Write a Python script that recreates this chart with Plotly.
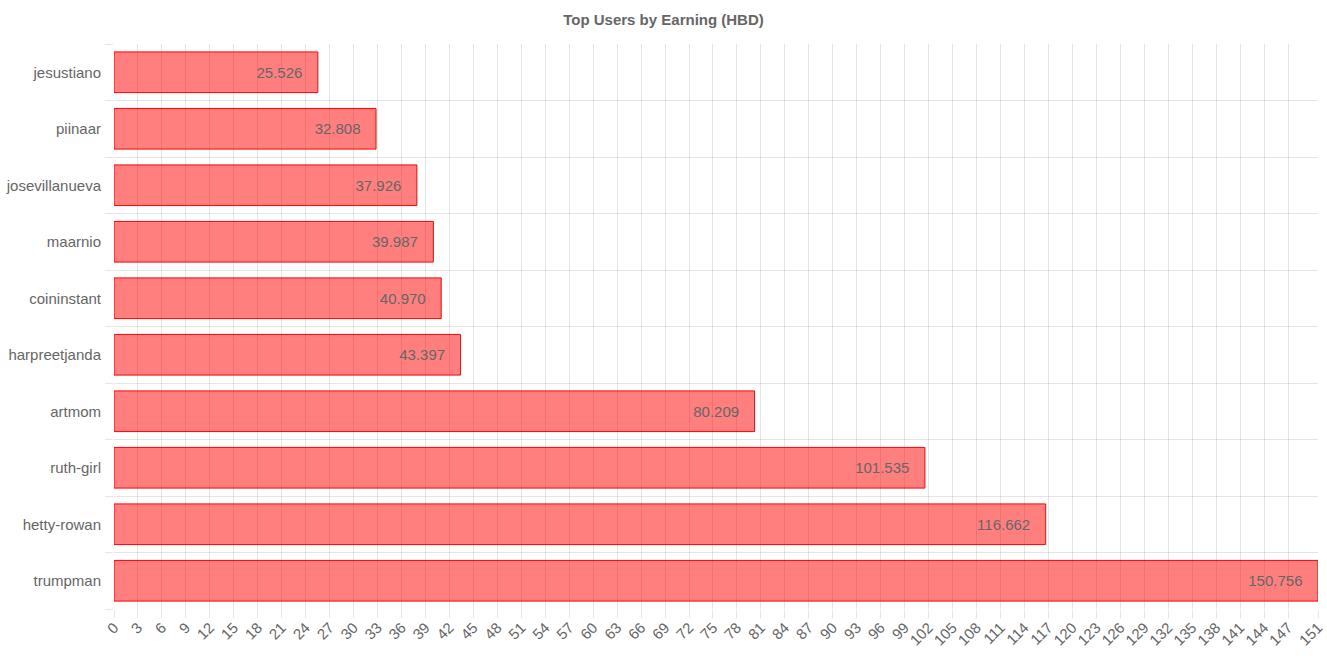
import plotly.graph_objects as go

users = ["jesustiano", "piinaar", "josevillanueva", "maarnio", "coininstant",
         "harpreetjanda", "artmom", "ruth-girl", "hetty-rowan", "trumpman"]
earnings = [25.526, 32.808, 37.926, 39.987, 40.970, 43.397, 80.209, 101.535, 116.662, 150.756]

x_max = max(earnings)
tick_vals = list(range(0, 148, 3)) + [x_max]
tick_text = [str(v) for v in range(0, 148, 3)] + [str(round(x_max))]

n = len(users)
positions = list(range(n))
boundaries = [i - 0.5 for i in range(n + 1)]

grid = "rgba(0,0,0,0.1)"
font = "Liberation Sans, Arial, sans-serif"

fig = go.Figure(go.Bar(
    x=earnings,
    y=positions,
    orientation="h",
    width=0.72,
    marker=dict(color="rgba(255,0,0,0.5)", line=dict(color="rgb(255,0,0)", width=1)),
    text=[f"{v:.3f}\u00a0\u00a0\u00a0" for v in earnings],
    textposition="inside",
    insidetextanchor="end",
    textfont=dict(color="#666666", size=15, family=font),
    constraintext="none",
    customdata=users,
    hovertemplate="%{customdata}: %{x}<extra></extra>",
))

fig.update_layout(
    width=1327, height=663,
    margin=dict(l=114, r=9, t=44, b=54),
    paper_bgcolor="white", plot_bgcolor="white",
    title=dict(text="<b>Top Users by Earning (HBD)</b>", x=0.5, xanchor="center",
               y=1 - 20 / 663, yanchor="middle",
               font=dict(size=15, color="#666666", family=font)),
    showlegend=False,
    font=dict(family=font, color="#666666", size=15),
)

fig.update_xaxes(
    range=[0, x_max],
    tickmode="array", tickvals=tick_vals, ticktext=tick_text,
    tickangle=-45,
    showgrid=True, gridcolor=grid, gridwidth=1,
    zeroline=False,
    ticks="outside", ticklen=8, tickcolor=grid,
    ticklabelstandoff=-5,
    showline=False,
    tickfont=dict(size=15, color="#666666", family=font),
    automargin=False,
    fixedrange=True,
)

fig.update_yaxes(
    range=[n - 0.5, -0.5],
    tickmode="array", tickvals=positions, ticktext=users,
    showgrid=False,
    zeroline=False,
    ticks="",
    ticklabelstandoff=12,
    minor=dict(tickmode="array", tickvals=boundaries, showgrid=True,
               gridcolor=grid, gridwidth=1, ticks="outside", ticklen=8,
               tickcolor=grid),
    showline=False,
    tickfont=dict(size=15, color="#666666", family=font),
    automargin=False,
    fixedrange=True,
)

fig.write_html("out.html")
